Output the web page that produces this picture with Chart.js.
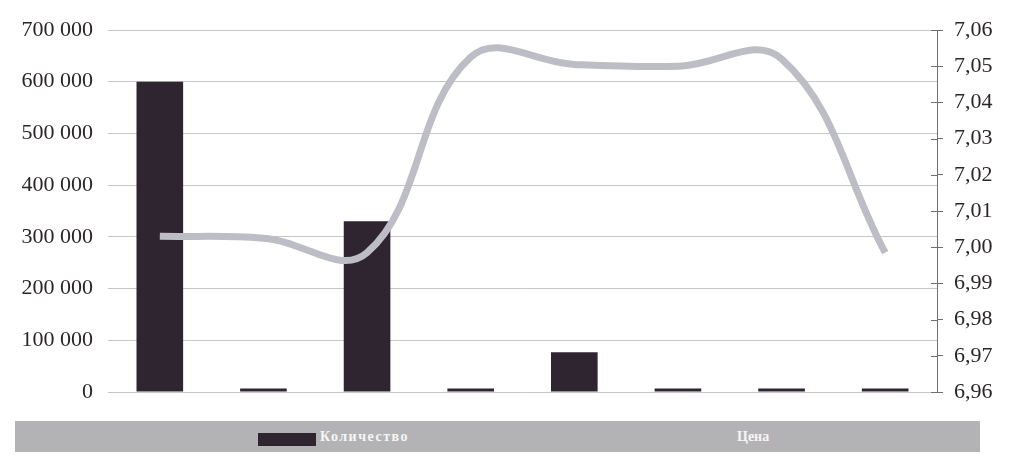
<!DOCTYPE html>
<html>
<head>
<meta charset="utf-8">
<script src="https://cdn.jsdelivr.net/npm/chart.js@4/dist/chart.umd.min.js"></script>
<style>
  html, body { margin: 0; padding: 0; background: #ffffff; }
  #wrap { position: relative; width: 1012px; height: 460px; }
  #c { position: absolute; left: 0; top: 0; }
  #legend { position: absolute; left: 15px; top: 421px; width: 965px; height: 31px; background: #b3b3b5; }
  .lg-box { position: absolute; left: 243px; top: 12px; width: 58px; height: 13px; background: #2f2530; }
  .lg-text { position: absolute; top: 8px; font-family: "Liberation Serif", serif; font-weight: bold; font-size: 14px; color: #f6f6f6; white-space: nowrap; }
</style>
</head>
<body>
<div id="wrap">
  <canvas id="c" width="1012" height="460"></canvas>
  <div id="legend">
    <div class="lg-box"></div>
    <span class="lg-text" id="lg1" style="left:305px; letter-spacing:1.5px"></span>
    <span class="lg-text" id="lg2" style="left:722px"></span>
  </div>
</div>
<script>
// ---- data ----
const categories = ["1", "2", "3", "4", "5", "6", "7", "8"];
const quantityLabel = "Количество";
const priceLabel = "Цена";
const quantityValues = [600000, 7000, 330000, 7000, 77000, 7000, 7000, 7000];
const priceValues = [7.003, 7.0025, 6.9985, 7.0525, 7.0505, 7.050, 7.052, 6.9985];
const leftTicks = [0, 100000, 200000, 300000, 400000, 500000, 600000, 700000];
const rightTicks = [6.96, 6.97, 6.98, 6.99, 7.00, 7.01, 7.02, 7.03, 7.04, 7.05, 7.06];

document.getElementById('lg1').textContent = quantityLabel;
document.getElementById('lg2').textContent = priceLabel;

const FONT = { family: '"Liberation Serif", serif', size: 22 };
const TXT = '#2b2729';

function fmtThousands(v) {
  return String(Math.round(v)).replace(/\B(?=(\d{3})+(?!\d))/g, ' ');
}

// short inward tick marks on the right axis, so ticks cross the axis line
const innerTicks = {
  id: 'innerTicks',
  afterDatasetsDraw(chart) {
    const s = chart.scales.y1;
    const ctx = chart.ctx;
    ctx.save();
    ctx.strokeStyle = '#6f6f6f';
    ctx.lineWidth = 1;
    s.ticks.forEach(t => {
      const y = Math.round(s.getPixelForValue(t.value)) + 0.5;
      ctx.beginPath();
      ctx.moveTo(s.left - 6, y);
      ctx.lineTo(s.left, y);
      ctx.stroke();
    });
    ctx.restore();
  }
};

new Chart(document.getElementById('c'), {
  type: 'bar',
  data: {
    labels: categories,
    datasets: [
      {
        type: 'line',
        label: priceLabel,
        data: priceValues,
        yAxisID: 'y1',
        borderColor: '#bdbdc6',
        borderWidth: 7,
        pointRadius: 0,
        tension: 0.4,
        fill: false,
        order: 0
      },
      {
        type: 'bar',
        label: quantityLabel,
        data: quantityValues,
        yAxisID: 'y',
        backgroundColor: '#2f2530',
        borderWidth: 0,
        categoryPercentage: 0.9,
        barPercentage: 0.5,
        order: 1
      }
    ]
  },
  options: {
    responsive: false,
    animation: false,
    layout: { padding: { top: 30, bottom: 68, left: 0, right: 0 } },
    plugins: { legend: { display: false }, tooltip: { enabled: false } },
    scales: {
      x: {
        display: false,
        offset: true
      },
      y: {
        position: 'left',
        min: 0,
        max: 700000,
        afterBuildTicks: (s) => { s.ticks = leftTicks.map(v => ({ value: v })); },
        afterFit: (s) => { s.width = 108; },
        grid: { color: '#c6c6c6', lineWidth: 1, drawTicks: false },
        border: { display: false },
        ticks: {
          padding: 15,
          color: TXT,
          font: FONT,
          callback: (v) => fmtThousands(v)
        }
      },
      y1: {
        position: 'right',
        min: 6.96,
        max: 7.06,
        afterBuildTicks: (s) => { s.ticks = rightTicks.map(v => ({ value: v })); },
        afterFit: (s) => { s.width = 75; },
        grid: { drawOnChartArea: false, drawTicks: true, tickLength: 6, color: '#6f6f6f' },
        border: { display: true, color: '#6f6f6f', width: 1 },
        ticks: {
          padding: 11,
          color: TXT,
          font: FONT,
          callback: (v) => Number(v).toFixed(2).replace('.', ',')
        }
      }
    }
  },
  plugins: [innerTicks]
});
</script>
</body>
</html>
